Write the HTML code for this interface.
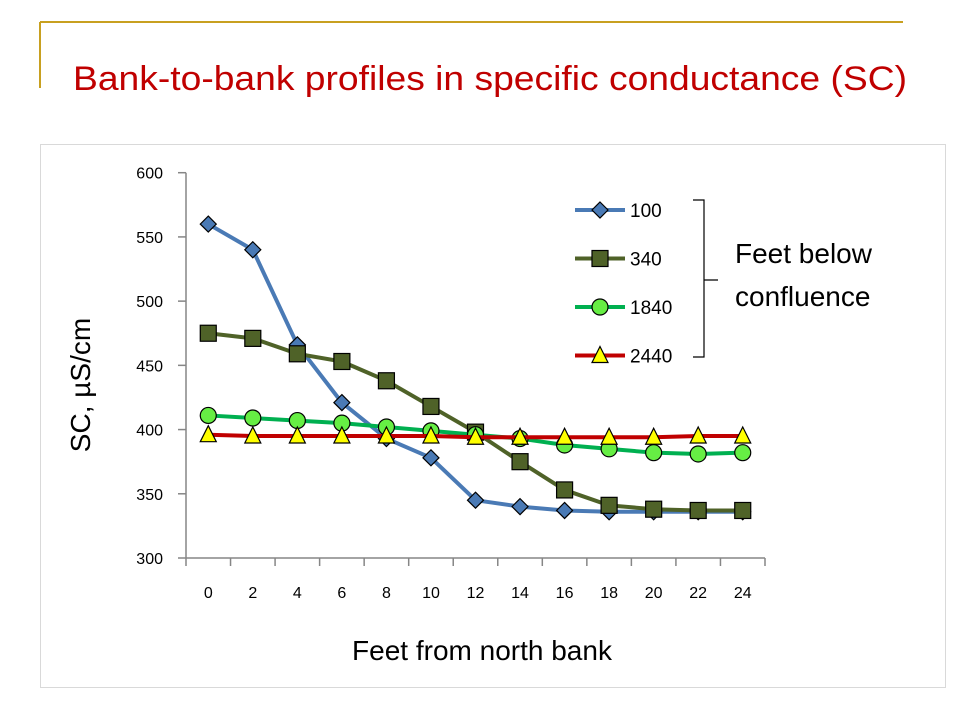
<!DOCTYPE html>
<html><head><meta charset="utf-8"><style>
body{margin:0;background:#fff;}
svg{display:block;font-family:"Liberation Sans",sans-serif;}
</style></head><body>
<svg width="960" height="720" viewBox="0 0 960 720">
<line x1="40" y1="22" x2="903" y2="22" stroke="#c8a020" stroke-width="2"/>
<line x1="40" y1="22" x2="40" y2="88" stroke="#c8a020" stroke-width="2"/>
<text x="490" y="90" text-anchor="middle" font-size="34" fill="#c00000" textLength="834" lengthAdjust="spacingAndGlyphs">Bank-to-bank profiles in specific conductance (SC)</text>
<rect x="40.5" y="144.5" width="905" height="543" fill="#fff" stroke="#d9d9d9"/>
<g id="chart"></g>
</svg>
<script>
const categories=[0,2,4,6,8,10,12,14,16,18,20,22,24];
const yTicks=[300,350,400,450,500,550,600];
const s100=[560,540,466,421,393,378,345,340,337,336,336,336,336];
const s340=[475,471,459,453,438,418,398,375,353,341,338,337,337];
const s1840=[411,409,407,405,402,399,396,393,388,385,382,381,382];
const s2440=[396,395,395,395,395,395,394,394,394,394,394,395,395];
const seriesNames=["100","340","1840","2440"];

const NS="http://www.w3.org/2000/svg";
const g=document.getElementById('chart');
const X0=186,X1=765,Y0=558,Y1=172.7,YMIN=300,YMAX=600;
const step=(X1-X0)/categories.length;
function x(i){return X0+step*(i+0.5);}
function y(v){return Y0-(v-YMIN)/(YMAX-YMIN)*(Y0-Y1);}
function el(tag,attrs,parent){const e=document.createElementNS(NS,tag);for(const k in attrs)e.setAttribute(k,attrs[k]);(parent||g).appendChild(e);return e;}

let a=el('line',{x1:X0,y1:Y1,x2:X0,y2:Y0,stroke:'#868686','stroke-width':1.5});


a=el('line',{x1:X0,y1:Y0,x2:X1,y2:Y0,stroke:'#868686','stroke-width':1.5});


yTicks.forEach(v=>{
  const t=el('line',{x1:X0-8,y1:y(v),x2:X0,y2:y(v),stroke:'#868686','stroke-width':1.5});
  
  
  const l=el('text',{x:X0-23,y:y(v)+6,'text-anchor':'end','font-size':16,fill:'#000'});
  l.textContent=v;
  
  
});
for(let i=0;i<=categories.length;i++){
  const t=el('line',{x1:X0+step*i,y1:Y0,x2:X0+step*i,y2:Y0+8,stroke:'#868686','stroke-width':1.5});
  
  
}
categories.forEach((c,i)=>{
  const l=el('text',{x:x(i),y:Y0+40,'text-anchor':'middle','font-size':16,fill:'#000'});
  l.textContent=c;
  
  
});
let t=el('text',{x:482,y:660,'text-anchor':'middle','font-size':28,fill:'#000'});
t.textContent='Feet from north bank';


t=el('text',{x:0,y:0,'text-anchor':'middle','font-size':28,fill:'#000',transform:'translate(90,385) rotate(-90)'});
t.textContent='SC, \u00b5S/cm';



function marker(type,cx,cy,fill,parent){
  let m;
  if(type==='diamond') m=el('polygon',{points:`${cx},${cy-8} ${cx+8},${cy} ${cx},${cy+8} ${cx-8},${cy}`,fill,stroke:'#000','stroke-width':1.2},parent);
  else if(type==='square') m=el('rect',{x:cx-8,y:cy-8,width:16,height:16,fill,stroke:'#000','stroke-width':1.2},parent);
  else if(type==='circle') m=el('circle',{cx,cy,r:8,fill,stroke:'#000','stroke-width':1.2},parent);
  else m=el('polygon',{points:`${cx},${cy-9} ${cx+8},${cy+7} ${cx-8},${cy+7}`,fill,stroke:'#000','stroke-width':1.2},parent);
  return m;
}
const defs=[[s100,'#4a7ab5','#4a7ab5','diamond'],[s340,'#4f6228','#4f6228','square'],[s1840,'#00b050','#66ee44','circle'],[s2440,'#c00000','#ffff00','triangle']];
defs.forEach((d,k)=>{
  const [vals,lc,mc,mt]=d;
  const sg=el('g',{});
  
  
  const p=el('polyline',{points:vals.map((v,i)=>x(i)+','+y(v)).join(' '),fill:'none',stroke:lc,'stroke-width':4,'stroke-linejoin':'round'},sg);
  
  
  vals.forEach((v,i)=>{
    const m=marker(mt,x(i),y(v),mc,sg);
    
    
  });
  const ly=210+k*48.5;
  const lg=el('g',{});
  
  
  el('line',{x1:575,y1:ly,x2:625,y2:ly,stroke:lc,'stroke-width':4},lg);
  marker(mt,600,ly,mc,lg);
  const lt=el('text',{x:630,y:ly+7,'font-size':19,fill:'#000'},lg);
  lt.textContent=seriesNames[k];
});
const br=el('path',{d:'M693,200 L704,200 L704,280 L718,280 M704,280 L704,357 L693,357',fill:'none',stroke:'#000','stroke-width':1.2});


t=el('text',{x:735,y:263,'font-size':28,fill:'#000'});
t.textContent='Feet below';


t=el('text',{x:735,y:306,'font-size':28,fill:'#000'});
t.textContent='confluence';


</script>
</body></html>
